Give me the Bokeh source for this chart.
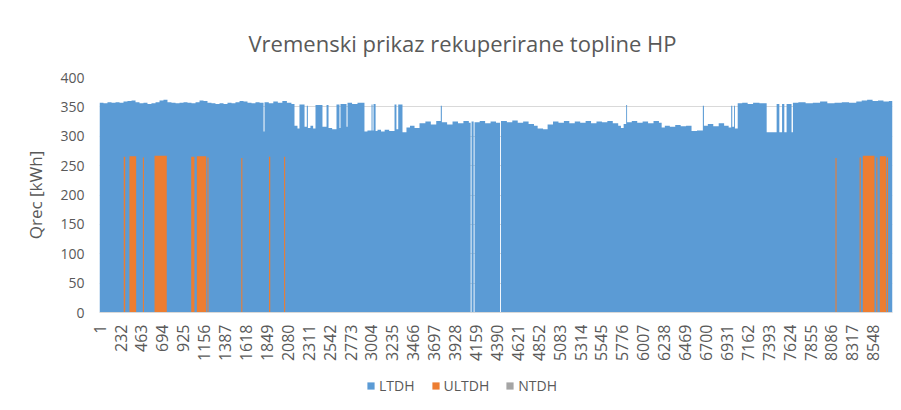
import math
from bokeh.plotting import figure
from bokeh.layouts import column
from bokeh.models import Range1d, FixedTicker, Legend, LegendItem
from bokeh.embed import file_html
from bokeh.resources import INLINE

# ---- data ----
# LTDH: piecewise-constant hourly levels, start hour of each run and its value [kWh]
ltdh_start = [
    0, 44, 88, 133, 177, 221, 265, 309, 354, 398, 442, 486, 530, 574, 619, 663,
    707, 751, 795, 840, 884, 928, 972, 1016, 1061, 1105, 1149, 1193, 1237, 1281,
    1326, 1370, 1414, 1458, 1502, 1547, 1591, 1635, 1679, 1723, 1768, 1812, 1823,
    1870, 1920, 1970, 2020, 2070, 2120, 2154, 2187, 2209, 2265, 2290, 2302, 2330,
    2360, 2386, 2463, 2508, 2530, 2570, 2618, 2651, 2662, 2729, 2740, 2790, 2850,
    2927, 2960, 3005, 3016, 3027, 3050, 3071, 3110, 3150, 3200, 3259, 3280, 3300,
    3347, 3391, 3430, 3480, 3535, 3600, 3660, 3720, 3770, 3782, 3840, 3900, 3960,
    4020, 4080, 4100, 4110, 4133, 4143, 4200, 4260, 4320, 4380, 4425, 4435, 4500,
    4560, 4620, 4680, 4740, 4800, 4840, 4900, 4950, 5010, 5070, 5130, 5190, 5250,
    5310, 5370, 5430, 5490, 5550, 5610, 5670, 5730, 5760, 5790, 5818, 5828, 5880,
    5940, 6000, 6060, 6120, 6180, 6210, 6245, 6300, 6360, 6420, 6480, 6540, 6600,
    6665, 6677, 6720, 6780, 6840, 6900, 6950, 6978, 6990, 7010, 7020, 7050, 7100,
    7160, 7220, 7290, 7370, 7480, 7510, 7540, 7565, 7590, 7645, 7660, 7720, 7800,
    7880, 7960, 8040, 8120, 8200, 8280, 8360, 8420, 8480, 8540, 8600, 8660, 8720,
]
ltdh_value = [
    357, 356, 358, 357, 358, 357, 359, 360, 361, 358, 356, 357, 355, 356, 358, 361,
    362, 358, 357, 356, 357, 358, 357, 356, 358, 361, 360, 357, 356, 355,
    356, 355, 357, 356, 358, 360, 359, 357, 356, 358, 357, 308, 358,
    356, 359, 357, 360, 357, 355, 318, 313, 354, 316, 352, 314, 318,
    313, 353, 316, 353, 314, 312, 354, 314, 355, 316, 357, 355, 357,
    308, 310, 354, 310, 355, 309, 311, 308, 311, 309, 354, 312, 354,
    307, 315, 318, 314, 322, 325, 320, 326, 352, 324, 320, 325, 322,
    326, 323, 0, 325, 0, 324, 326, 322, 325, 323, 0, 326, 324,
    327, 323, 325, 321, 318, 313, 312, 320, 325, 323, 326, 322, 325,
    323, 326, 322, 325, 324, 326, 322, 318, 314, 321, 353, 324, 326,
    323, 325, 322, 326, 323, 315, 318, 316, 319, 317, 318, 309, 310,
    352, 318, 321, 317, 322, 318, 315, 352, 316, 352, 313, 356, 357,
    355, 357, 356, 307, 355, 307, 355, 307, 355, 307, 357, 358, 356,
    357, 359, 356, 357, 358, 357, 359, 361, 362, 360, 361, 359, 360,
]
# ULTDH: hour runs with non-zero values
ultdh_start = [268, 331, 479, 608, 1013, 1075, 1192, 1566, 1873, 2039,
               8130, 8397, 8432, 8581, 8620, 8699]
ultdh_end = [284, 405, 491, 743, 1049, 1179, 1204, 1578, 1886, 2051,
             8142, 8409, 8561, 8593, 8691, 8711]
ultdh_value = [265, 266, 264, 267, 265, 266, 264, 263, 265, 265,
               263, 264, 267, 264, 266, 264]
# NTDH: zero over the whole year
ntdh_start = [0]
ntdh_end = [8760]
ntdh_value = [0]

series_names = ["LTDH", "ULTDH", "NTDH"]
x_ticks = [1, 232, 463, 694, 925, 1156, 1387, 1618, 1849, 2080, 2311, 2542, 2773,
           3004, 3235, 3466, 3697, 3928, 4159, 4390, 4621, 4852, 5083, 5314, 5545,
           5776, 6007, 6238, 6469, 6700, 6931, 7162, 7393, 7624, 7855, 8086, 8317, 8548]
y_ticks = [0, 50, 100, 150, 200, 250, 300, 350, 400]

BLUE = "#5B9BD5"
ORANGE = "#ED7D31"
GREY = "#A5A5A5"
TXT = "#595959"
FONT = "Open Sans"
NAN = float("nan")

p = figure(width=898, height=372, output_backend="svg", toolbar_location=None,
           x_range=Range1d(0, 8760), y_range=Range1d(0, 400),
           min_border_left=99, min_border_right=6, min_border_top=77,
           min_border_bottom=60)
p.outline_line_color = None
p.background_fill_color = "white"

p.title.text = "Vremenski prikaz rekuperirane topline HP"
p.title.align = "left"
p.title.offset = 149
p.title.standoff = 39
p.title.text_font = FONT
p.title.text_font_size = "22px"
p.title.text_font_style = "normal"
p.title.text_color = TXT

lx = ltdh_start + [8760]
ly = ltdh_value + [ltdh_value[-1]]
p.varea_step(x=lx, y1=[0] * len(lx), y2=ly, step_mode="after", fill_color=BLUE)
p.quad(left=ultdh_start, right=ultdh_end, bottom=0, top=ultdh_value,
       fill_color=ORANGE, line_color=None)
p.quad(left=ntdh_start, right=ntdh_end, bottom=0, top=ntdh_value,
       fill_color=GREY, line_color=None)

p.xgrid.grid_line_color = None
p.ygrid.grid_line_color = "#D9D9D9"
p.ygrid.ticker = FixedTicker(ticks=y_ticks)

ya = p.yaxis[0]
ya.ticker = FixedTicker(ticks=y_ticks)
ya.axis_line_color = None
ya.major_tick_line_color = None
ya.minor_tick_line_color = None
ya.major_label_standoff = 9
ya.major_label_text_font = FONT
ya.major_label_text_font_size = "14px"
ya.major_label_text_color = TXT
ya.axis_label = "Qrec [kWh]"
ya.axis_label_text_font = FONT
ya.axis_label_text_font_size = "17px"
ya.axis_label_text_font_style = "normal"
ya.axis_label_text_color = TXT
ya.axis_label_standoff = 10

xa = p.xaxis[0]
xa.ticker = FixedTicker(ticks=x_ticks)
xa.axis_line_color = "#D9D9D9"
xa.major_tick_line_color = None
xa.minor_tick_line_color = None
xa.major_label_orientation = math.pi / 2
xa.major_label_standoff = 6
xa.major_label_text_font = FONT
xa.major_label_text_font_size = "16px"
xa.major_label_text_color = TXT

# legend strip below the chart (proxy renderers carry only the swatch colours)
pl = figure(width=898, height=34, output_backend="svg", toolbar_location=None,
            x_range=Range1d(0, 1), y_range=Range1d(0, 1),
            min_border_left=0, min_border_right=0, min_border_top=0,
            min_border_bottom=0)
pl.axis.visible = False
pl.grid.visible = False
pl.outline_line_color = None
proxies = [pl.quad(left=[NAN], right=[NAN], bottom=[NAN], top=[NAN],
                   fill_color=c, line_color=None)
           for c in (BLUE, ORANGE, GREY)]
legend = Legend(items=[LegendItem(label=n, renderers=[r]) for n, r in zip(series_names, proxies)],
                orientation="horizontal", location=(267, 11),
                label_text_font=FONT, label_text_font_size="14px",
                label_text_color=TXT, glyph_width=9, glyph_height=9,
                spacing=16, label_standoff=4, border_line_color=None,
                background_fill_alpha=0, padding=0, margin=0)
pl.add_layout(legend)

layout = column(p, pl, spacing=0)
open("out.html", "w").write(file_html(layout, INLINE))
